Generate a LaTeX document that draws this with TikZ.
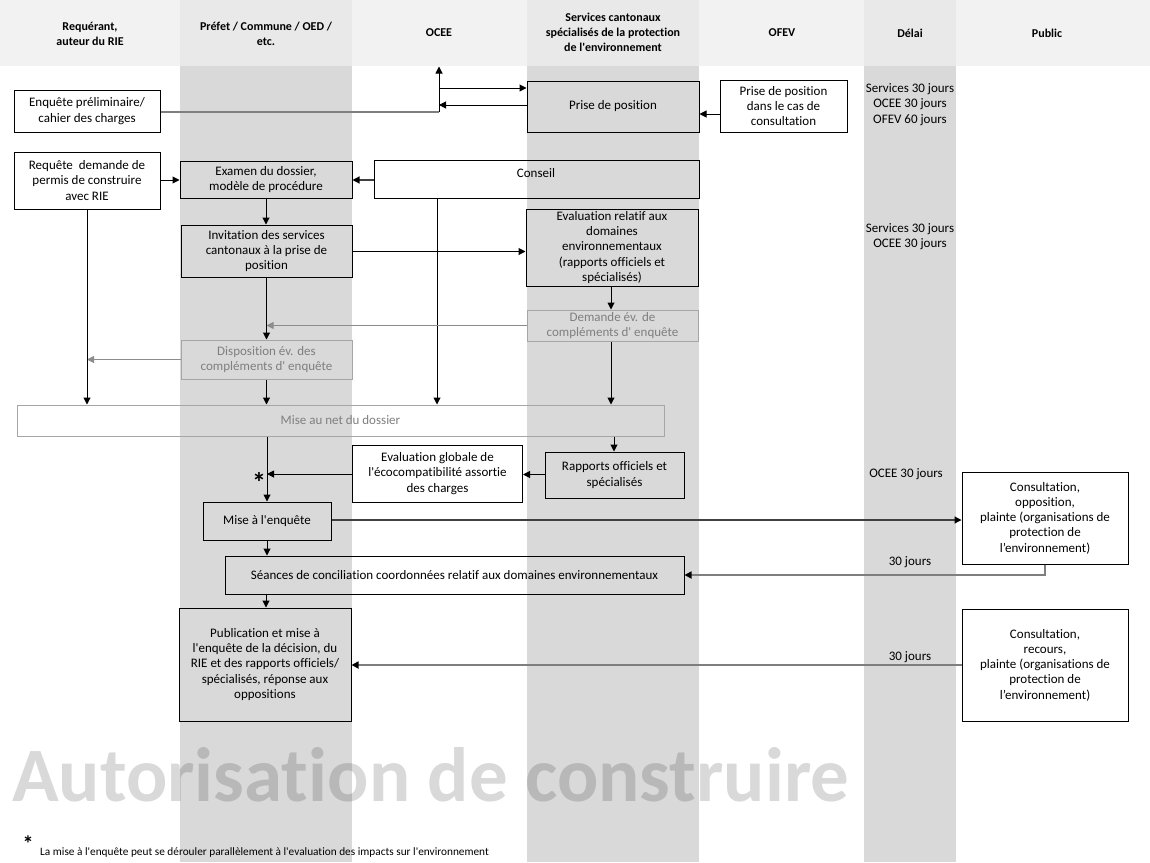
\documentclass[tikz,border=0pt]{standalone}
\usepackage{fontspec}
\setmainfont{Carlito}[Ligatures={TeXOff,NoCommon}]
\usetikzlibrary{arrows.meta}
\definecolor{colgray}{HTML}{D9D9D9}
\definecolor{headlight}{HTML}{F2F2F2}
\definecolor{headdark}{HTML}{E9E9E9}
\definecolor{midline}{HTML}{7F7F7F}
\definecolor{fadeline}{HTML}{8C8C8C}
\definecolor{fadetext}{HTML}{7F7F7F}
\definecolor{fadeborder}{HTML}{A6A6A6}
\begin{document}
\begin{tikzpicture}[x=1pt,y=-1pt,
  every node/.style={font=\fontsize{13}{15.3}\selectfont, inner sep=0pt, align=center},
  wh/.style n args={2}{minimum width=#1pt, minimum height=#2pt},
  box/.style={draw=black, line width=1pt},
  fadebox/.style={draw=fadeborder, line width=1pt, text=fadetext},
  head/.style={font=\fontsize{12}{15.3}\selectfont\bfseries},
  arr/.style={draw=black, line width=1pt, -{Triangle[length=7pt,width=7pt]}},
  farr/.style={draw=fadeline, line width=1pt, -{Triangle[length=7pt,width=7pt]}},
  gline/.style={draw=midline, line width=1.6pt},
  garr/.style={draw=midline, line width=1.6pt, -{Triangle[length=7pt,width=7pt,color=black]}},
  darr/.style={draw=black!75, line width=1.2pt, -{Triangle[length=7pt,width=7pt,color=black]}}
]
\useasboundingbox (0,0) rectangle (1150,862);
% background
\fill[white] (0,0) rectangle (1150,862);
\fill[headlight] (0,0) rectangle (1150,66);
\fill[headdark] (180,0) rectangle (352,66);
\fill[headdark] (527,0) rectangle (699,66);
\fill[headdark] (864,0) rectangle (956,66);
\fill[colgray] (180,66) rectangle (352,862);
\fill[colgray] (527,66) rectangle (699,862);
\fill[colgray] (864,66) rectangle (956,862);

% headers
\node[head] (h1) at (90,34) {Requérant,\\auteur du RIE};
\node[head] (h2) at (266,34) {Préfet / Commune / OED /\\etc.};
\node[head] (h3) at (439,33) {OCEE};
\node[head] (h4) at (613,32.5) {Services cantonaux\\spécialisés de la protection\\de l'environnement};
\node[head] (h5) at (782,33) {OFEV};
\node[head] (h6) at (910,33) {Délai};
\node[head] (h7) at (1047,33) {Public};

% watermark
\node[anchor=base west, font=\fontsize{77}{77}\selectfont\bfseries, text=black, text opacity=0.15] (wm) at (12,801) {Autorisation de construire};

% boxes
\node[box, wh={146}{42}] (enq) at (87,111) {Enquête préliminaire/\\cahier des charges};
\node[box, wh={146}{57}] (req) at (87,180.5) {Requête\ \ demande de\\permis de construire\\avec RIE};
\node[box, wh={172}{51}] (prise) at (613,106.5) {Prise de position};
\node[box, wh={127}{52}] (ofev) at (783.5,106) {Prise de position\\dans le cas de\\consultation};
\node[box, wh={172}{37}] (exam) at (266,179.5) {Examen du dossier,\\modèle de procédure};
\node[box, wh={325}{38}] (conseil) at (536.5,179) {};
\node (conseiltxt) at (536,173) {Conseil};
\node[box, wh={171}{52}] (inv) at (266.5,251) {Invitation des services\\cantonaux à la prise de\\position};
\node[box, wh={172}{77}] (eval) at (612,247.5) {Evaluation relatif aux\\domaines\\environnementaux\\(rapports officiels et\\spécialisés)};
\node[fadebox, wh={171}{31}] (dem) at (612.5,325.5) {Demande év. de\\compléments d' enquête};
\node[fadebox, wh={171}{39}] (disp) at (266.5,359.5) {Disposition év. des\\compléments d' enquête};
\node[fadebox, wh={647}{31}] (net) at (340.5,420.5) {Mise au net du dossier};
\node[box, wh={170}{57}] (glob) at (437.5,473.5) {Evaluation globale de\\l'écocompatibilité assortie\\des charges};
\node[box, wh={139}{46}] (rap) at (614.5,475) {Rapports officiels et\\spécialisés};
\node[box, wh={128}{38}] (mise) at (267,521) {Mise à l'enquête};
\node[box, wh={459}{38}] (sea) at (454.5,575) {Séances de conciliation coordonnées relatif aux domaines environnementaux};
\node[box, wh={172}{113}] (pub) at (265,664.5) {Publication et mise à\\l'enquête de la décision, du\\RIE et des rapports officiels/\\spécialisés, réponse aux\\oppositions};
\node[box, wh={166}{92}] (pc1) at (1045,518) {Consultation,\\opposition,\\plainte (organisations de\\protection de\\l’environnement)};
\node[box, wh={166}{112}] (pc2) at (1045,665) {Consultation,\\recours,\\plainte (organisations de\\protection de\\l’environnement)};

% delays
\node (d1) at (910,104.5) {Services 30 jours\\OCEE 30 jours\\OFEV 60 jours};
\node (d2) at (910,236.5) {Services 30 jours\\OCEE 30 jours};
\node (d3) at (906,474) {OCEE 30 jours};
\node (d4) at (910,562) {30 jours};
\node (d5) at (910,657) {30 jours};

% connectors
\coordinate (junc) at (439,111.7);
\coordinate (ocee) at (439,66.5);
\coordinate (o1) at (439,88);
\coordinate (o2) at (439,105);
\draw[gline] (enq.east |- junc) -- (junc);
\draw[arr] (junc) -- (ocee);
\draw[arr] (o1) -- (o1 -| prise.west);
\draw[arr] (prise.west |- o2) -- (o2);
\draw[arr] (ofev.west |- 0,114) -- (prise.east |- 0,114);

\draw[arr] (req.east |- 0,180) -- (exam.west |- 0,180);
\draw[darr] (conseil.west |- 0,180) -- (exam.east |- 0,180);
\draw[arr] (exam.south) -- (exam.south |- inv.north);
\draw[arr] (inv.east |- 0,251.5) -- (eval.west |- 0,251.5);
\draw[arr] (conseil.south -| 437,0) -- (net.north -| 437,0);
\draw[arr] (eval.south -| 611,0) -- (dem.north -| 611,0);
\coordinate (demtip) at (266.5,325.5);
\draw[farr] (dem.west |- demtip) -- (demtip);
\draw[arr] (inv.south) -- (disp.north);
\coordinate (disptip) at (87,359.5);
\draw[farr] (disp.west) -- (disptip);
\draw[arr] (req.south) -- (req.south |- net.north);
\draw[arr] (disp.south) -- (disp.south |- net.north);
\draw[arr] (dem.south -| 611,0) -- (net.north -| 611,0);
\draw[arr] (net.south -| 267,0) -- (mise.north -| 267,0);
\draw[arr] (net.south -| 614,0) -- (rap.north -| 614,0);
\draw[arr] (rap.west |- 0,474.5) -- (glob.east |- 0,474.5);
\coordinate (globtip) at (267,474);
\draw[arr] (glob.west |- globtip) -- (globtip);
\node[anchor=base, font=\fontsize{28}{28}\selectfont\bfseries] (star) at (259,492) {*};
\draw[darr] (mise.east |- 0,520) -- (pc1.west |- 0,520);
\draw[arr] (mise.south) -- (mise.south |- sea.north);
\draw[garr] (pc1.south -| 1045,0) -- (1045,575) -- (sea.east);
\draw[arr] (sea.south -| 266,0) -- (pub.north -| 266,0);
\draw[garr] (pc2.west) -- (pc2.west -| pub.east);

% footnote
\node[anchor=base, font=\fontsize{22}{22}\selectfont\bfseries] (fstar) at (28,851) {*};
\node[anchor=base west, font=\fontsize{11.3}{12}\selectfont] (fn) at (40,855) {La mise à l'enquête peut se dérouler parallèlement à l'evaluation des impacts sur l'environnement};
\end{tikzpicture}
\end{document}
